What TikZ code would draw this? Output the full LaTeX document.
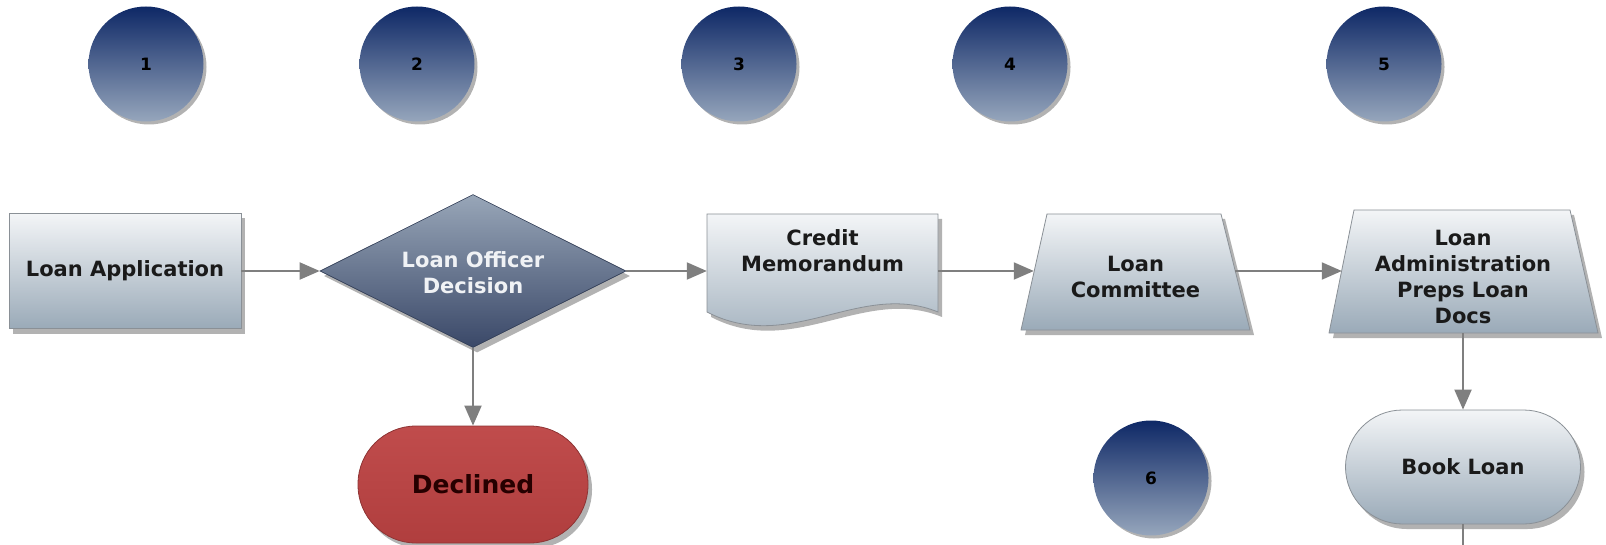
\documentclass[tikz,border=0pt]{standalone}
\usepackage{fontspec}
\setmainfont{DejaVu Sans}
\usetikzlibrary{shapes.geometric,shadows,arrows.meta}
\definecolor{boxtop}{HTML}{F3F5F7}
\definecolor{boxbot}{HTML}{9AAAB8}
\definecolor{boxline}{HTML}{8A9096}
\definecolor{diatop}{HTML}{98A6B8}
\definecolor{diabot}{HTML}{3A4868}
\definecolor{circtop}{HTML}{0E2866}
\definecolor{circbot}{HTML}{96A6BC}
\definecolor{redtop}{HTML}{C04C4C}
\definecolor{redbot}{HTML}{B03E3E}
\definecolor{redline}{HTML}{8E3434}
\definecolor{linegray}{HTML}{7F7F7F}
\definecolor{textdark}{HTML}{1A1A1A}
\definecolor{textlight}{HTML}{F0F2F5}
\begin{document}
\begin{tikzpicture}[x=1pt,y=-1pt,
  shad/.style={drop shadow={shadow xshift=4pt,shadow yshift=-5pt,fill=black,opacity=.3}},
  lbl/.style={font=\fontsize{21}{26}\selectfont\bfseries, align=center, text=textdark},
  lightfill/.style={shad, draw=boxline, line width=0.8pt, top color=boxtop, bottom color=boxbot},
  lightbox/.style={lightfill, lbl, inner sep=0pt},
  anchorbox/.style={inner sep=0pt, rectangle},
  numc/.style={circle, minimum size=115pt, inner sep=0pt, top color=circtop, bottom color=circbot,
    drop shadow={shadow xshift=3pt,shadow yshift=-3pt,fill=black,opacity=.3},
    font=\fontsize{17}{19}\selectfont\bfseries, text=black},
  conn/.style={draw=linegray, line width=2pt, -{Triangle[length=20pt,width=17pt,fill=linegray]}},
  plain/.style={draw=linegray, line width=2pt}
]
\useasboundingbox (0,0) rectangle (1606,545);

% numbered circles
\node[numc] (c1) at (146,64) {1};
\node[numc] (c2) at (417,64) {2};
\node[numc] (c3) at (739,64) {3};
\node[numc] (c4) at (1010,64) {4};
\node[numc] (c5) at (1384,64) {5};
\node[numc] (c6) at (1151,478) {6};

% Loan Application
\node[lightbox, rectangle, minimum width=232pt, minimum height=115pt] (la) at (125,271) {Loan Application};

% Decision diamond
\node[diamond, shad, draw=diabot!80!black, line width=0.6pt, top color=diatop, bottom color=diabot,
  minimum width=306pt, minimum height=153pt, inner sep=0pt] (dec) at (473,271) {};
\node[lbl, text=textlight] (dect) at (473,273) {Loan Officer\\Decision};

% Credit Memorandum (document shape)
\path[lightfill]
  (707,214) -- (938,214) -- (938,312) .. controls (860,280) and (790,355) .. (707,312) -- cycle;
\node[anchorbox, minimum width=231pt, minimum height=114pt] (cm) at (822.5,271) {};
\node[lbl] (cmt) at (822.5,251) {Credit\\Memorandum};

% Loan Committee (trapezium)
\path[lightfill] (1047,214) -- (1221,214) -- (1250,330) -- (1021,330) -- cycle;
\node[anchorbox, minimum width=201pt, minimum height=114pt] (lc) at (1134.5,271) {};
\node[lbl] (lct) at (1135.5,277) {Loan\\Committee};

% Loan Administration (trapezium)
\path[lightfill] (1354,210) -- (1570,210) -- (1598,333) -- (1329,333) -- cycle;
\node[anchorbox, minimum width=242pt, minimum height=124pt] (lad) at (1463,271) {};
\node[lbl] (ladt) at (1463,277) {Loan\\Administration\\Preps Loan\\Docs};

% Declined
\node[shad, rectangle, rounded corners=58pt, draw=redline, line width=0.8pt, top color=redtop, bottom color=redbot,
  minimum width=230pt, minimum height=117pt, inner sep=0pt,
  font=\fontsize{25}{28}\selectfont\bfseries, text=black!85!red] (decl) at (473,484.5) {Declined};

% Book Loan
\node[lightbox, rectangle, rounded corners=57pt, minimum width=235pt, minimum height=114pt] (bl) at (1463,467) {Book Loan};

\coordinate (out) at (1463,550);

% connectors
\draw[conn] (la) -- (dec);
\draw[conn] (dec) -- (cm);
\draw[conn] (cm) -- (lc);
\draw[conn] (lc) -- (lad);
\draw[conn] (dec) -- (decl);
\draw[conn] (lad) -- (bl);
\draw[plain] (bl) -- (out);
\end{tikzpicture}
\end{document}
